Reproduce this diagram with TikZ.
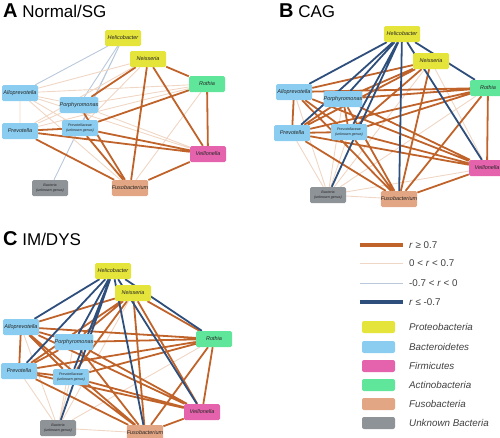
\documentclass[tikz,border=0pt]{standalone}
\usepackage{fontspec}
\setmainfont{Liberation Sans}
\usepackage{xcolor}
\usetikzlibrary{backgrounds}

\definecolor{proteo}{HTML}{E4E43A}
\definecolor{bactero}{HTML}{8ACDF0}
\definecolor{firmi}{HTML}{E463AC}
\definecolor{actino}{HTML}{5FE69A}
\definecolor{fuso}{HTML}{E2A684}
\definecolor{unknown}{HTML}{8E9398}
\definecolor{rpos}{HTML}{C0632A}
\definecolor{rposlight}{HTML}{F0D6C4}
\definecolor{rneglight}{HTML}{B9C8DB}
\definecolor{rneg}{HTML}{2E4E7C}

\tikzset{
    taxon/.style={rounded corners=1.5pt, minimum width=36pt, minimum height=16pt,
        inner sep=0pt, align=center, text=black!85,
        font=\fontsize{5.5}{6.5}\selectfont\itshape},
    twoline/.style={font=\fontsize{3.6}{4.2}\selectfont\itshape},
    proteobox/.style={fill=proteo},
    bacterobox/.style={fill=bactero},
    firmibox/.style={fill=firmi},
    actinobox/.style={fill=actino},
    fusobox/.style={fill=fuso},
    unknownbox/.style={fill=unknown},
    strongpos/.style={draw=rpos, line width=1.8pt},
    weakpos/.style={draw=rposlight, line width=0.9pt},
    weakneg/.style={draw=rneglight, line width=0.9pt},
    strongneg/.style={draw=rneg, line width=1.8pt},
    paneltitle/.style={anchor=base west, inner sep=0pt, font=\fontsize{17}{17}\selectfont},
    legtext/.style={anchor=west, inner sep=0pt, text=black!75, font=\fontsize{9.8}{11}\selectfont},
    legbox/.style={rounded corners=2pt, minimum width=33pt, minimum height=12pt, inner sep=0pt}
}

\begin{document}
\begin{tikzpicture}[x=1pt, y=-1pt]
        \useasboundingbox (0,0) rectangle (500,437);

        % titles
        \node[paneltitle] (titleA) at (3,17) {{\fontsize{20}{20}\selectfont\bfseries A} Normal/SG};
        \node[paneltitle] (titleB) at (279,17) {{\fontsize{20}{20}\selectfont\bfseries B} CAG};
        \node[paneltitle] (titleC) at (3,245) {{\fontsize{20}{20}\selectfont\bfseries C} IM/DYS};

        % panel A
        \node[taxon, proteobox] (heliA) at (123,38) {Helicobacter};
        \node[taxon, proteobox] (neisA) at (148,59) {Neisseria};
        \node[taxon, actinobox] (rothA) at (207,84) {Rothia};
        \node[taxon, bacterobox] (alloA) at (20,93) {Alloprevotella};
        \node[taxon, bacterobox] (porpA) at (79,105) {Porphyromonas};
        \node[taxon, bacterobox] (prevA) at (20,131) {Prevotella};
        \node[taxon, bacterobox, twoline] (pcaeA) at (80,128) {Prevotellaceae\\(unknown genus)};
        \node[taxon, firmibox] (veilA) at (208,154) {Veillonella};
        \node[taxon, fusobox] (fusoA) at (130,188) {Fusobacterium};
        \node[taxon, unknownbox, twoline] (bactA) at (50,188) {Bacteria\\(unknown genus)};

        % panel B
        \node[taxon, proteobox] (heliB) at (402,34) {Helicobacter};
        \node[taxon, proteobox] (neisB) at (431,61) {Neisseria};
        \node[taxon, actinobox] (rothB) at (488,88) {Rothia};
        \node[taxon, bacterobox] (alloB) at (294,92) {Alloprevotella};
        \node[taxon, bacterobox] (porpB) at (343,99) {Porphyromonas};
        \node[taxon, bacterobox] (prevB) at (292,133) {Prevotella};
        \node[taxon, bacterobox, twoline] (pcaeB) at (349,132) {Prevotellaceae\\(unknown genus)};
        \node[taxon, firmibox] (veilB) at (487,168) {Veillonella};
        \node[taxon, fusobox] (fusoB) at (399,199) {Fusobacterium};
        \node[taxon, unknownbox, twoline] (bactB) at (328,195) {Bacteria\\(unknown genus)};

        % panel C
        \node[taxon, proteobox] (heliC) at (113,271) {Helicobacter};
        \node[taxon, proteobox] (neisC) at (133,293) {Neisseria};
        \node[taxon, actinobox] (rothC) at (214,339) {Rothia};
        \node[taxon, bacterobox] (alloC) at (21,327) {Alloprevotella};
        \node[taxon, bacterobox] (porpC) at (74,342) {Porphyromonas};
        \node[taxon, bacterobox] (prevC) at (19,371) {Prevotella};
        \node[taxon, bacterobox, twoline] (pcaeC) at (71,377) {Prevotellaceae\\(unknown genus)};
        \node[taxon, firmibox] (veilC) at (202,412) {Veillonella};
        \node[taxon, fusobox] (fusoC) at (145,433) {Fusobacterium};
        \node[taxon, unknownbox, twoline] (bactC) at (58,428) {Bacteria\\(unknown genus)};

        \begin{scope}[on background layer]
        % panel A edges
        \draw[weakneg] (heliA) -- (alloA) (heliA) -- (porpA) (heliA) -- (pcaeA) (heliA) -- (bactA);
        \draw[weakpos] (neisA) -- (alloA) (neisA) -- (prevA) (neisA) -- (pcaeA)
            (rothA) -- (alloA) (rothA) -- (porpA) (rothA) -- (prevA) (rothA) -- (fusoA)
            (alloA) -- (prevA) (alloA) -- (porpA) (alloA) -- (veilA) (alloA) -- (fusoA)
            (alloA) -- (pcaeA) (porpA) -- (prevA) (porpA) -- (veilA);
        \draw[strongpos] (neisA) -- (porpA) (neisA) -- (rothA) (neisA) -- (veilA) (neisA) -- (fusoA)
            (rothA) -- (pcaeA) (rothA) -- (veilA) (prevA) -- (pcaeA) (prevA) -- (veilA)
            (prevA) -- (fusoA) (pcaeA) -- (veilA) (pcaeA) -- (fusoA) (porpA) -- (fusoA)
            (veilA) -- (fusoA);

        % panel B edges
        \draw[weakpos] (neisB) -- (bactB) (rothB) -- (bactB) (alloB) -- (bactB) (prevB) -- (bactB)
            (porpB) -- (bactB) (fusoB) -- (bactB) (veilB) -- (bactB) (neisB) -- (veilB)
            (pcaeB) -- (bactB);
        \draw[strongpos] (neisB) -- (alloB) (neisB) -- (porpB) (neisB) -- (prevB) (neisB) -- (pcaeB)
            (neisB) -- (fusoB) (rothB) -- (alloB) (rothB) -- (porpB) (rothB) -- (prevB)
            (rothB) -- (pcaeB) (rothB) -- (veilB) (rothB) -- (fusoB) (alloB) -- (prevB)
            (alloB) -- (pcaeB) (alloB) -- (veilB) (alloB) -- (fusoB) (porpB) -- (prevB)
            (porpB) -- (veilB) (porpB) -- (fusoB) (porpB) -- (pcaeB) (prevB) -- (pcaeB)
            (prevB) -- (veilB) (prevB) -- (fusoB) (pcaeB) -- (veilB) (pcaeB) -- (fusoB)
            (veilB) -- (fusoB);
        \draw[strongneg] (heliB) -- (alloB) (heliB) -- (porpB) (heliB) -- (prevB) (heliB) -- (pcaeB)
            (heliB) -- (bactB) (heliB) -- (fusoB) (heliB) -- (rothB) (heliB) -- (veilB);

        % panel C edges
        \draw[weakpos] (neisC) -- (bactC) (alloC) -- (bactC) (prevC) -- (bactC) (rothC) -- (bactC)
            (fusoC) -- (bactC) (porpC) -- (bactC) (pcaeC) -- (bactC);
        \draw[strongpos] (neisC) -- (alloC) (neisC) -- (porpC) (neisC) -- (prevC) (neisC) -- (pcaeC)
            (neisC) -- (rothC) (neisC) -- (veilC) (neisC) -- (fusoC) (rothC) -- (alloC)
            (rothC) -- (porpC) (rothC) -- (prevC) (rothC) -- (pcaeC) (rothC) -- (veilC)
            (rothC) -- (fusoC) (alloC) -- (prevC) (alloC) -- (porpC) (alloC) -- (pcaeC)
            (alloC) -- (veilC) (alloC) -- (fusoC) (porpC) -- (prevC) (porpC) -- (veilC)
            (porpC) -- (fusoC) (prevC) -- (pcaeC) (prevC) -- (veilC) (prevC) -- (fusoC)
            (pcaeC) -- (veilC) (pcaeC) -- (fusoC) (veilC) -- (fusoC);
        \draw[strongneg] (heliC) -- (alloC) (heliC) -- (prevC) (heliC) -- (porpC) (heliC) -- (pcaeC)
            (heliC) -- (bactC) (heliC) -- (fusoC) (heliC) -- (veilC) (heliC) -- (rothC);
        \end{scope}

        % legend
        \draw[strongpos, line width=3.5pt] (360,245) -- (403,245);
        \draw[weakpos] (360,263) -- (403,263);
        \draw[weakneg] (360,283) -- (403,283);
        \draw[strongneg, line width=3.5pt] (360,302) -- (403,302);
        \node[legtext] (keyStrongPos) at (409,245) {\textit{r} ≥ 0.7};
        \node[legtext] (keyWeakPos) at (409,263) {0 < \textit{r} < 0.7};
        \node[legtext] (keyWeakNeg) at (409,283) {-0.7 < \textit{r} < 0};
        \node[legtext] (keyStrongNeg) at (409,302) {\textit{r} ≤ -0.7};

        \node[legbox, proteobox] (keyProteo) at (378.5,327) {};
        \node[legbox, bacterobox] (keyBactero) at (378.5,347) {};
        \node[legbox, firmibox] (keyFirmi) at (378.5,366) {};
        \node[legbox, actinobox] (keyActino) at (378.5,385) {};
        \node[legbox, fusobox] (keyFuso) at (378.5,404) {};
        \node[legbox, unknownbox] (keyUnknown) at (378.5,423) {};
        \node[legtext] at (409,327) {\textit{Proteobacteria}};
        \node[legtext] at (409,347) {\textit{Bacteroidetes}};
        \node[legtext] at (409,366) {\textit{Firmicutes}};
        \node[legtext] at (409,385) {\textit{Actinobacteria}};
        \node[legtext] at (409,404) {\textit{Fusobacteria}};
        \node[legtext] at (409,423) {\textit{Unknown Bacteria}};
    \end{tikzpicture}
\end{document}
